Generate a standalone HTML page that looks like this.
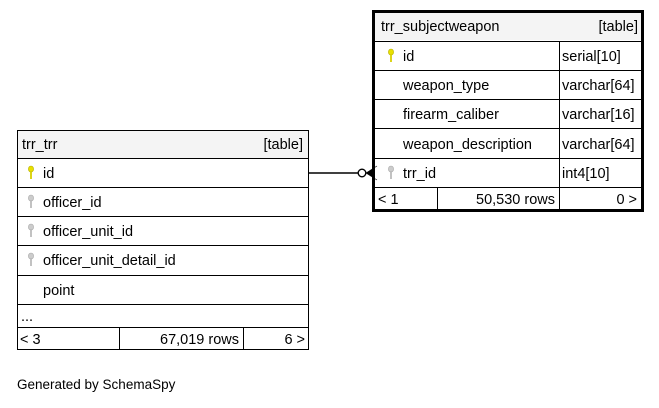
<!DOCTYPE html>
<html><head><style>
body{margin:0;background:#fff;}
svg text{font-family:"Liberation Sans",sans-serif;font-size:14.5px;fill:#000;}
</style></head><body>
<svg width="659" height="403" xmlns="http://www.w3.org/2000/svg">
<defs>
<g id="kY"><ellipse cx="0" cy="-4" rx="2.6" ry="3" fill="#e8e000" stroke="#b8b000" stroke-width="0.6"/><rect x="-0.9" y="-2" width="1.8" height="8" fill="#d8d000"/></g>
<g id="kG"><ellipse cx="0" cy="-4" rx="2.6" ry="3" fill="#ccc" stroke="#aaa" stroke-width="0.6"/><rect x="-0.9" y="-2" width="1.8" height="8" fill="#bbb"/></g>
</defs>
<rect x="17.5" y="130.5" width="291" height="219" fill="#fff" stroke="#000"/>
<rect x="18" y="131" width="290" height="27" fill="#f4f4f4"/>
<g stroke="#000" stroke-width="1">
<line x1="17" y1="158.5" x2="309" y2="158.5"/>
<line x1="17" y1="187.5" x2="309" y2="187.5"/>
<line x1="17" y1="216.5" x2="309" y2="216.5"/>
<line x1="17" y1="245.5" x2="309" y2="245.5"/>
<line x1="17" y1="275.5" x2="309" y2="275.5"/>
<line x1="17" y1="304.5" x2="309" y2="304.5"/>
<line x1="17" y1="327.5" x2="309" y2="327.5"/>
<line x1="119.5" y1="327" x2="119.5" y2="350"/>
<line x1="243.5" y1="327" x2="243.5" y2="350"/>
</g>
<text x="22" y="149">trr_trr</text><text x="303" y="149" text-anchor="end">[table]</text>
<use href="#kY" x="31" y="173"/><text x="43" y="178">id</text>
<use href="#kG" x="31" y="202"/><text x="43" y="207">officer_id</text>
<use href="#kG" x="31" y="231"/><text x="43" y="236">officer_unit_id</text>
<use href="#kG" x="31" y="260"/><text x="43" y="265">officer_unit_detail_id</text>
<text x="43" y="295">point</text>
<text x="21" y="321">...</text>
<text x="20" y="344">&lt; 3</text><text x="239" y="344" text-anchor="end">67,019 rows</text><text x="305" y="344" text-anchor="end">6 &gt;</text>
<rect x="373.5" y="11.5" width="269" height="199" fill="#fff" stroke="#000" stroke-width="3"/>
<rect x="375" y="13" width="266" height="27" fill="#f4f4f4"/>
<g stroke="#000" stroke-width="1">
<line x1="374" y1="41.5" x2="642" y2="41.5"/>
<line x1="374" y1="70.5" x2="642" y2="70.5"/>
<line x1="374" y1="99.5" x2="642" y2="99.5"/>
<line x1="374" y1="128.5" x2="642" y2="128.5"/>
<line x1="374" y1="158.5" x2="642" y2="158.5"/>
<line x1="374" y1="187.5" x2="642" y2="187.5"/>
<line x1="559.5" y1="41" x2="559.5" y2="187"/>
<line x1="437.5" y1="187" x2="437.5" y2="210"/>
<line x1="559.5" y1="187" x2="559.5" y2="210"/>
</g>
<text x="381" y="31">trr_subjectweapon</text><text x="638" y="31" text-anchor="end">[table]</text>
<use href="#kY" x="391" y="56"/><text x="403" y="61">id</text><text x="562" y="61">serial[10]</text>
<text x="403" y="90">weapon_type</text><text x="562" y="90">varchar[64]</text>
<text x="403" y="119">firearm_caliber</text><text x="562" y="119">varchar[16]</text>
<text x="403" y="149">weapon_description</text><text x="562" y="149">varchar[64]</text>
<use href="#kG" x="391" y="173"/><text x="403" y="178">trr_id</text><text x="562" y="178">int4[10]</text>
<text x="378" y="204">&lt; 1</text><text x="555" y="204" text-anchor="end">50,530 rows</text><text x="637" y="204" text-anchor="end">0 &gt;</text>
<line x1="309" y1="173" x2="358" y2="173" stroke="#000" stroke-width="1.5"/>
<circle cx="362" cy="173" r="3.8" fill="#fff" stroke="#000" stroke-width="1.4"/>
<polygon points="366,173 374,168 374,178" fill="#000"/>
<line x1="366" y1="173" x2="377" y2="166" stroke="#000" stroke-width="0.6"/>
<line x1="366" y1="173" x2="377" y2="180" stroke="#000" stroke-width="0.6"/>
<text x="17" y="389" style="font-size:13.5px">Generated by SchemaSpy</text>
</svg>
</body></html>
